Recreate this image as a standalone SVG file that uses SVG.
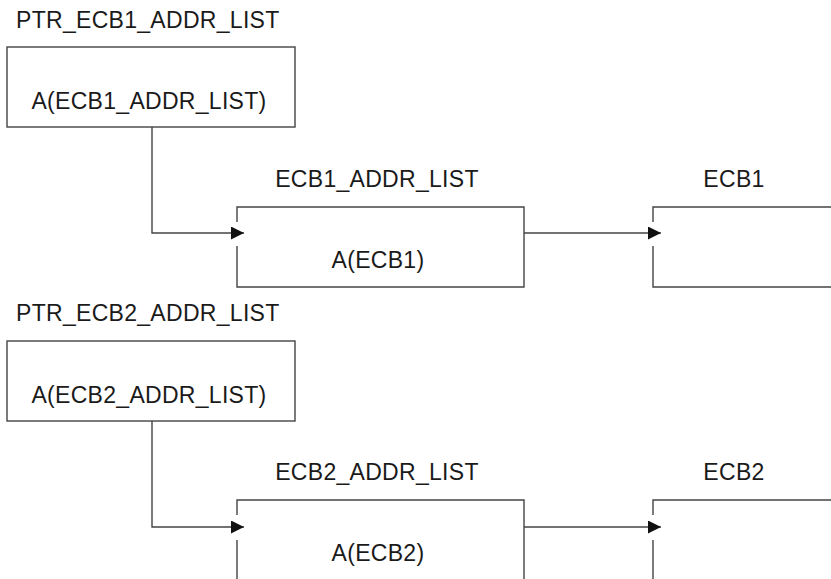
<svg xmlns="http://www.w3.org/2000/svg" width="831" height="579" viewBox="0 0 831 579">
<style>
text{font-family:"Liberation Sans",Arial,sans-serif;font-size:23px;fill:#1a1a1a;letter-spacing:0.3px}
.c{text-anchor:middle}
.b{fill:none;stroke:#444;stroke-width:1.4}
.k{fill:none;stroke:#444;stroke-width:1.4;marker-end:url(#ah)}
</style>
<defs>
<marker id="ah" markerUnits="userSpaceOnUse" markerWidth="13" markerHeight="13" refX="13" refY="6.5" orient="auto">
<path d="M0,0 L13,6.5 L0,13 z" fill="#111"/>
</marker>
</defs>
<rect width="831" height="579" fill="#fff"/>
<g id="ptr1">
<text x="16" y="28">PTR_ECB1_ADDR_LIST</text>
<rect class="b" x="7" y="47" width="288" height="80"/>
<text class="c" x="149" y="109">A(ECB1_ADDR_LIST)</text>
</g>
<g id="list1">
<text class="c" x="377" y="187">ECB1_ADDR_LIST</text>
<path class="b" d="M237,222 V207 H524 V287 H237 V246"/>
<text class="c" x="378" y="268">A(ECB1)</text>
</g>
<g id="ecb1">
<text class="c" x="734" y="187">ECB1</text>
<path class="b" d="M835,207 H653 V222 M653,246 V287 H835"/>
</g>
<g id="ptr2">
<text x="16" y="321">PTR_ECB2_ADDR_LIST</text>
<rect class="b" x="7" y="341" width="288" height="80"/>
<text class="c" x="149" y="403">A(ECB2_ADDR_LIST)</text>
</g>
<g id="list2">
<text class="c" x="377" y="480">ECB2_ADDR_LIST</text>
<path class="b" d="M237,515 V500 H524 V585 M237,540 V585"/>
<text class="c" x="378" y="561">A(ECB2)</text>
</g>
<g id="ecb2">
<text class="c" x="734" y="480">ECB2</text>
<path class="b" d="M835,500 H653 V515 M653,540 V585"/>
</g>
<g id="connectors">
<path class="k" d="M152,127 V233 H244"/>
<path class="k" d="M524,233 H661"/>
<path class="k" d="M152,421 V527 H244"/>
<path class="k" d="M524,527 H661"/>
</g>
</svg>
